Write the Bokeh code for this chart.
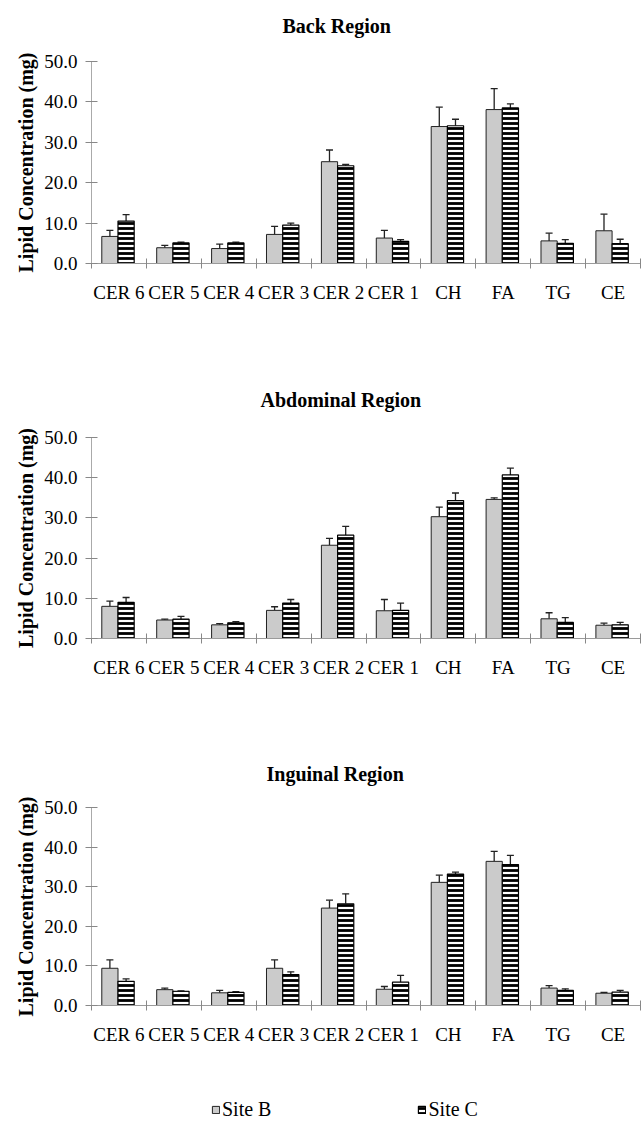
from bokeh.plotting import figure
from bokeh.models import (Range1d, FixedTicker, NumeralTickFormatter, Whisker, TeeHead,
                          ColumnDataSource, Legend, LegendItem, Title)
from bokeh.layouts import column
from bokeh.embed import file_html
from bokeh.resources import INLINE

categories = ["CER 6", "CER 5", "CER 4", "CER 3", "CER 2", "CER 1", "CH", "FA", "TG", "CE"]
y_ticks = [0, 10, 20, 30, 40, 50]
series_names = ["Site B", "Site C"]

# Back region
back_b = [6.7, 3.9, 3.7, 7.2, 25.2, 6.3, 33.9, 38.1, 5.6, 8.1]
back_b_err = [1.5, 0.6, 1.1, 2.0, 2.9, 1.9, 4.8, 5.2, 1.9, 4.1]
back_c = [10.5, 5.1, 5.1, 9.5, 24.2, 5.5, 34.1, 38.5, 5.0, 4.9]
back_c_err = [1.6, 0.2, 0.2, 0.5, 0.3, 0.4, 1.6, 1.0, 0.9, 1.1]

# Abdominal region
abd_b = [8.0, 4.6, 3.4, 7.0, 23.2, 6.9, 30.3, 34.6, 4.9, 3.3]
abd_b_err = [1.3, 0.2, 0.3, 0.9, 1.7, 2.8, 2.4, 0.4, 1.5, 0.5]
abd_c = [9.0, 4.8, 3.9, 8.8, 25.7, 7.0, 34.3, 40.7, 4.0, 3.4]
abd_c_err = [1.2, 0.7, 0.3, 0.9, 2.2, 1.8, 1.9, 1.7, 1.2, 0.6]

# Inguinal region
ing_b = [9.4, 4.0, 3.2, 9.4, 24.6, 4.1, 31.1, 36.4, 4.4, 3.1]
ing_b_err = [2.1, 0.4, 0.6, 2.1, 2.0, 0.7, 1.8, 2.5, 0.6, 0.2]
ing_c = [6.1, 3.6, 3.3, 7.8, 25.7, 5.9, 33.2, 35.6, 3.8, 3.4]
ing_c_err = [0.6, 0.1, 0.2, 0.7, 2.5, 1.7, 0.5, 2.3, 0.4, 0.4]

SERIF = "Liberation Serif"
STYLE_B = dict(fill_color="#cbcbcb", line_color="#222222", line_width=1)
STYLE_C = dict(fill_color="white", hatch_pattern="horizontal_line", hatch_color="black",
               hatch_scale=5, hatch_weight=2.8, line_color="black", line_width=1.2)


def make_panel(title, b, b_err, c, c_err, height, top, bottom, t_offset, spacer):
    p = figure(width=641, height=height, x_range=Range1d(-0.5, 9.5), y_range=Range1d(0, 50),
               output_backend="svg", toolbar_location=None,
               min_border_left=91, min_border_right=1, min_border_top=top, min_border_bottom=bottom,
               title=title)
    p.outline_line_color = None
    p.xgrid.visible = False
    p.ygrid.visible = False
    p.add_layout(Title(text=" ", text_font_size="2px", standoff=spacer), "above")
    p.title.align = "left"
    p.title.offset = t_offset
    p.title.standoff = 4
    p.title.text_font = SERIF
    p.title.text_font_size = "20px"
    p.title.text_font_style = "bold"
    p.title.text_color = "black"

    idx = list(range(len(categories)))
    xb = [i - 0.165 for i in idx]
    xc = [i + 0.13 for i in idx]
    w = 0.295

    p.vbar(x=xb, top=b, width=w, bottom=0, **STYLE_B)
    p.vbar(x=xc, top=c, width=w, bottom=0, **STYLE_C)

    for xs, vals, errs in ((xb, b, b_err), (xc, c, c_err)):
        src = ColumnDataSource(dict(base=xs, lower=vals, upper=[v + e for v, e in zip(vals, errs)]))
        p.add_layout(Whisker(base="base", lower="lower", upper="upper", source=src,
                             lower_head=None,
                             upper_head=TeeHead(size=7, line_color="#222222", line_width=1.3),
                             line_color="#222222", line_width=1.3))

    xa = p.xaxis[0]
    xa.ticker = FixedTicker(ticks=idx, minor_ticks=[i - 0.5 for i in range(len(categories) + 1)])
    xa.major_label_overrides = {i: cat for i, cat in zip(idx, categories)}
    xa.major_tick_in = 0
    xa.major_tick_out = 0
    xa.minor_tick_in = 5
    xa.minor_tick_out = 5
    xa.minor_tick_line_color = "#888888"
    xa.axis_line_color = "#9a9a9a"
    xa.major_label_standoff = 13
    xa.major_label_text_font = SERIF
    xa.major_label_text_font_size = "19px"
    xa.major_label_text_color = "black"

    ya = p.yaxis[0]
    ya.ticker = FixedTicker(ticks=y_ticks)
    ya.formatter = NumeralTickFormatter(format="0.0")
    ya.major_tick_in = 6
    ya.major_tick_out = 6
    ya.minor_tick_in = 0
    ya.minor_tick_out = 0
    ya.major_tick_line_color = "#888888"
    ya.axis_line_color = "#aaaaaa"
    ya.major_label_standoff = 8
    ya.major_label_text_font = SERIF
    ya.major_label_text_font_size = "19px"
    ya.major_label_text_color = "black"
    ya.axis_label = "Lipid Concentration (mg)"
    ya.axis_label_text_font = SERIF
    ya.axis_label_text_font_size = "20px"
    ya.axis_label_text_font_style = "bold"
    ya.axis_label_text_color = "black"
    ya.axis_label_standoff = 4
    return p


p1 = make_panel("Back Region", back_b, back_b_err, back_c, back_c_err, 380, 61, 117, 191, 19)
p2 = make_panel("Abdominal Region", abd_b, abd_b_err, abd_c, abd_c_err, 372, 57, 114, 169, 21)
p3 = make_panel("Inguinal Region", ing_b, ing_b_err, ing_c, ing_c_err, 328, 55, 75, 175, 17)

# legend strip (legend carriers sit below the visible range)
pl = figure(width=641, height=41, x_range=Range1d(0, 1), y_range=Range1d(0, 1),
            output_backend="svg", toolbar_location=None,
            min_border_left=0, min_border_right=0, min_border_top=0, min_border_bottom=0,
            x_axis_type=None, y_axis_type=None)
pl.outline_line_color = None
pl.xgrid.visible = False
pl.ygrid.visible = False
rb = pl.vbar(x=[0.5], bottom=[-3], top=[-2], width=0.1, **STYLE_B)
rc = pl.vbar(x=[0.5], bottom=[-3], top=[-2], width=0.1, **STYLE_C)
lg = Legend(items=[LegendItem(label=series_names[0], renderers=[rb]),
                   LegendItem(label=series_names[1], renderers=[rc])],
            orientation="horizontal", location=(120, 0),
            spacing=146, glyph_width=9, glyph_height=9, label_standoff=2,
            label_text_font=SERIF, label_text_font_size="20px", label_text_color="black",
            padding=0, margin=0, border_line_alpha=0, background_fill_alpha=0)
pl.add_layout(lg, "center")

layout = column(p1, p2, p3, pl, spacing=0)
open("out.html", "w").write(file_html(layout, INLINE))
